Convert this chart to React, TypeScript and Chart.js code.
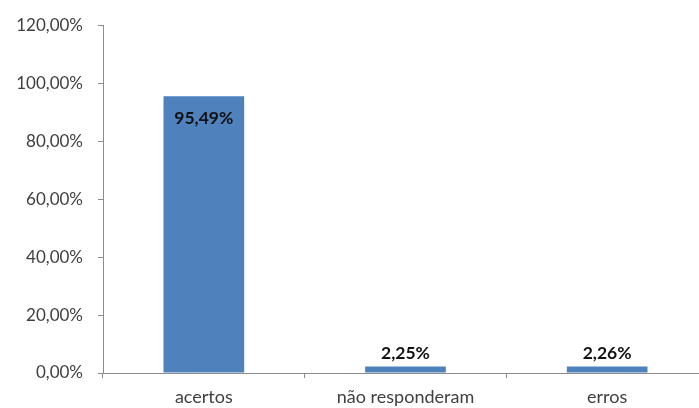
import React, { useEffect, useRef } from "react";
import { Chart, registerables } from "chart.js";

Chart.register(...registerables);

const categories = ["acertos", "não responderam", "erros"];
const values = [95.49, 2.25, 2.26];
const yTicks = [0, 20, 40, 60, 80, 100, 120];

const fmt = (v: number) => v.toFixed(2).replace(".", ",") + "%";

const FONT = "Lato, 'Open Sans', sans-serif";

const labelPlugin = {
  id: "barLabels",
  afterDatasetsDraw(chart: any) {
    const ctx = chart.ctx;
    const meta = chart.getDatasetMeta(0);
    ctx.save();
    ctx.font = `bold 17.5px ${FONT}`;
    ctx.fillStyle = "#111111";
    ctx.textAlign = "center";
    ctx.textBaseline = "middle";
    meta.data.forEach((bar: any, i: number) => {
      const v = values[i];
      const inside = v > 50;
      const y = inside ? bar.y + 22 : bar.y - 13;
      ctx.fillText(fmt(v), bar.x, y);
    });
    ctx.restore();
  },
};

export default function App() {
  const ref = useRef<HTMLCanvasElement>(null);
  useEffect(() => {
    if (!ref.current) return;
    const chart = new Chart(ref.current, {
      type: "bar",
      data: {
        labels: categories,
        datasets: [
          {
            data: values,
            backgroundColor: "#4F81BD",
            borderWidth: 0,
            barPercentage: 0.4,
            categoryPercentage: 1,
          },
        ],
      },
      options: {
        animation: false,
        responsive: false,
        layout: { padding: { top: 21, right: 2, left: 0, bottom: 0 } },
        plugins: { legend: { display: false }, tooltip: { enabled: false } },
        scales: {
          y: {
            min: 0,
            max: 120,
            afterBuildTicks: (s: any) => {
              s.ticks = yTicks.map((v) => ({ value: v }));
            },
            afterFit: (s: any) => {
              s.width = 103;
            },
            border: { display: true, color: "#8c8c8c", width: 1 },
            grid: { drawOnChartArea: false, drawTicks: true, tickLength: 5, color: "#8c8c8c" },
            ticks: {
              padding: 15,
              color: "#404040",
              font: { family: FONT, size: 17 },
              callback: (v: any) => fmt(Number(v)),
            },
          },
          x: {
            afterFit: (s: any) => {
              s.height = 35;
            },
            border: { display: true, color: "#8c8c8c", width: 1 },
            grid: { drawOnChartArea: false, drawTicks: true, tickLength: 5, color: "#8c8c8c", offset: true },
            ticks: {
              padding: 8,
              color: "#404040",
              font: { family: FONT, size: 18 },
            },
          },
        },
      },
      plugins: [labelPlugin],
    });
    return () => chart.destroy();
  }, []);
  return (
    <div style={{ position: "fixed", left: 0, top: 0, width: 699, height: 408, overflow: "hidden", background: "#fff" }}>
      <canvas ref={ref} width={710} height={408} style={{ display: "block" }} />
    </div>
  );
}
